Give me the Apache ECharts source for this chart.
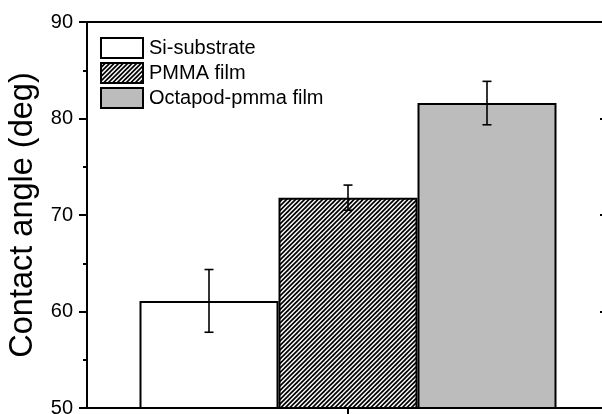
<!DOCTYPE html>
<html>
<head>
<meta charset="utf-8">
<script src="https://cdn.jsdelivr.net/npm/echarts@6/dist/echarts.min.js"></script>
<style>
  html, body { margin: 0; padding: 0; background: #fff; }
  #chart { width: 602px; height: 414px; }
</style>
</head>
<body>
<div id="chart"></div>
<script>
// Contact angle measurements per surface (mean and standard deviation)
const categories = [''];
const seriesNames = ['Si-substrate', 'PMMA film', 'Octapod-pmma film'];
const meanValues = [61.1, 71.8, 81.6];
const errorValues = [3.25, 1.3, 2.25];
const yTicks = { min: 50, max: 90, interval: 10 };

const FONT = '"Liberation Sans", Arial, sans-serif';
const BAR_WIDTH = 139;

// Diagonal hatch fill ("/") for the PMMA film bar
function hatchPattern() {
  const s = 9;
  const c = document.createElement('canvas');
  c.width = s; c.height = s;
  const g = c.getContext('2d');
  g.fillStyle = '#fff';
  g.fillRect(0, 0, s, s);
  g.strokeStyle = '#000';
  g.lineWidth = 1.7;
  for (let k = -2; k <= 2; k++) {
    const o = k * s / 2;
    g.beginPath();
    g.moveTo(o - 1, s + 1);
    g.lineTo(o + s + 1, -1);
    g.stroke();
  }
  return { image: c, repeat: 'repeat' };
}

const fills = ['#ffffff', hatchPattern(), '#bcbcbc'];

const chart = echarts.init(document.getElementById('chart'), null, { renderer: 'canvas' });

const barSeries = seriesNames.map((name, i) => ({
  name: name,
  type: 'bar',
  barWidth: BAR_WIDTH,
  barGap: '0%',
  data: [meanValues[i]],
  itemStyle: { color: fills[i], borderColor: '#000', borderWidth: 2 },
  emphasis: { disabled: true },
  z: 2
}));

const errorSeries = {
  type: 'custom',
  silent: true,
  z: 5,
  data: meanValues.map((v, i) => [i, v, errorValues[i]]),
  renderItem: function (params, api) {
    const i = api.value(0);
    const v = api.value(1);
    const e = api.value(2);
    const center = api.coord([0, v]);
    const x = center[0] + (i - 1) * BAR_WIDTH;
    const top = api.coord([0, v + e])[1];
    const bot = api.coord([0, v - e])[1];
    const cap = 4.5;
    const style = { stroke: '#000', lineWidth: 1.6, fill: null };
    return {
      type: 'group',
      children: [
        { type: 'line', shape: { x1: x, y1: top, x2: x, y2: bot }, style: style },
        { type: 'line', shape: { x1: x - cap, y1: top, x2: x + cap, y2: top }, style: style },
        { type: 'line', shape: { x1: x - cap, y1: bot, x2: x + cap, y2: bot }, style: style }
      ]
    };
  }
};

const option = {
  animation: false,
  backgroundColor: '#ffffff',
  grid: { left: 87, top: 22, width: 522, height: 386, containLabel: false, outerBoundsMode: 'none' },
  legend: {
    orient: 'vertical',
    left: 100,
    top: 37,
    padding: 0,
    itemWidth: 42,
    itemHeight: 20,
    itemGap: 3,
    icon: 'rect',
    data: seriesNames,
    selectedMode: false,
    textStyle: { fontFamily: FONT, fontSize: 20, color: '#000', padding: [0, 0, 0, 1] }
  },
  xAxis: [
    {
      type: 'category',
      data: categories,
      position: 'bottom',
      axisLine: { show: true, onZero: false, lineStyle: { color: '#000', width: 2 } },
      axisTick: { show: true, alignWithLabel: true, inside: false, length: 7, lineStyle: { color: '#000', width: 2 } },
      axisLabel: { show: false },
      splitLine: { show: false }
    },
    {
      type: 'category',
      data: categories,
      position: 'top',
      axisLine: { show: true, onZero: false, lineStyle: { color: '#000', width: 2 } },
      axisTick: { show: false },
      axisLabel: { show: false },
      splitLine: { show: false }
    }
  ],
  yAxis: [
    {
      type: 'value',
      position: 'left',
      min: yTicks.min,
      max: yTicks.max,
      interval: yTicks.interval,
      name: 'Contact angle (deg)',
      nameLocation: 'middle',
      nameGap: 44,
      nameTextStyle: { fontFamily: FONT, fontSize: 32.5, color: '#000' },
      axisLine: { show: true, onZero: false, lineStyle: { color: '#000', width: 2 } },
      axisTick: { show: true, inside: false, length: 8, lineStyle: { color: '#000', width: 2 } },
      minorTick: { show: true, splitNumber: 2, length: 4, lineStyle: { color: '#000', width: 2 } },
      axisLabel: { fontFamily: FONT, fontSize: 20, color: '#000', margin: 14 },
      splitLine: { show: false }
    },
    {
      type: 'value',
      position: 'right',
      min: yTicks.min,
      max: yTicks.max,
      interval: yTicks.interval,
      axisLine: { show: true, onZero: false, lineStyle: { color: '#000', width: 2 } },
      axisTick: { show: true, inside: true, length: 9, lineStyle: { color: '#000', width: 2 } },
      minorTick: { show: false },
      axisLabel: { show: false },
      splitLine: { show: false }
    }
  ],
  series: barSeries.concat([errorSeries])
};

chart.setOption(option);
</script>
</body>
</html>
